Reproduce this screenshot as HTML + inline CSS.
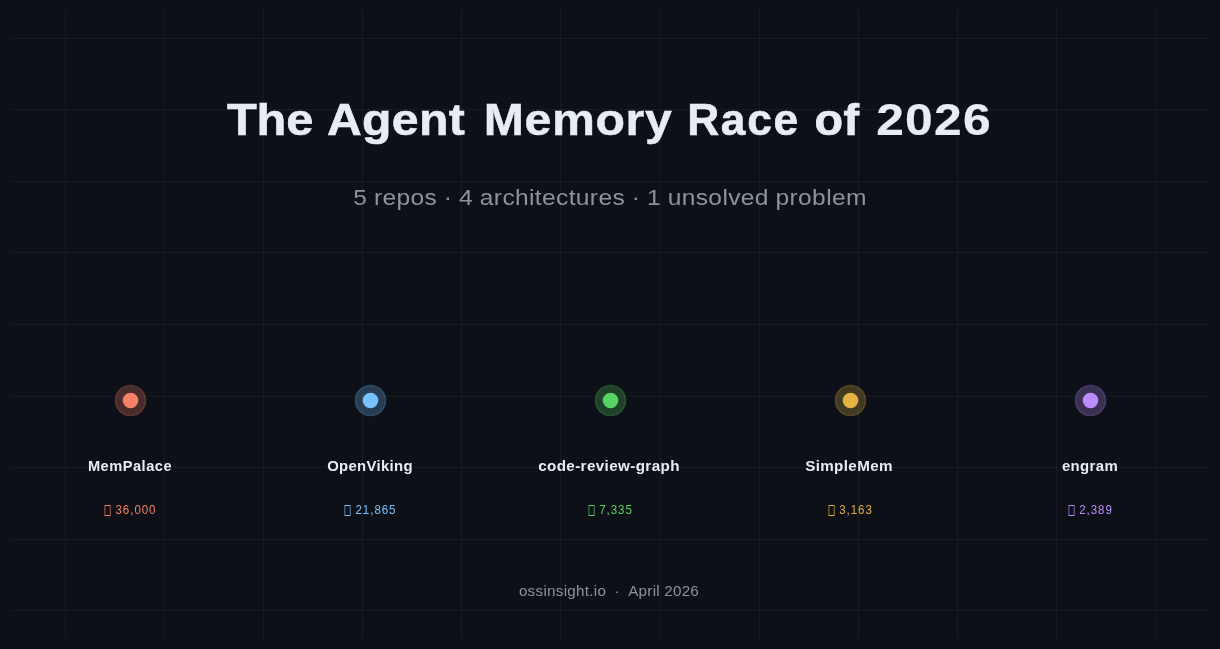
<!DOCTYPE html>
<html lang="en">
<head>
<meta charset="utf-8">
<title>The Agent Memory Race of 2026</title>
<style>
  html, body { margin: 0; padding: 0; background: #0d1117; }
  body {
    position: relative; width: 1220px; height: 649px; overflow: hidden;
    font-family: "Liberation Sans", sans-serif;
  }
  #gfx { position: absolute; left: 0; top: 0; }
  /* one composited layer for all text => greyscale (not LCD) antialiasing, like the original raster */
  main { position: absolute; left: 0; top: 0; width: 1220px; height: 649px; will-change: transform; }
  h1, h2, p { margin: 0; padding: 0; font-size: inherit; font-weight: inherit; }

  /* Every label is placed by its centre (--x) and top (--y); the original was drawn
     with a wider face, so glyphs are stretched (--sx) and tracked (--ls) to match. */
  .t {
    position: absolute; left: var(--x); top: var(--y);
    font-family: "Liberation Sans", sans-serif;
    font-size: var(--fs); line-height: var(--fs);
    letter-spacing: var(--ls, 0); word-spacing: var(--ws, 0);
    white-space: nowrap;
    -webkit-text-stroke-width: var(--st, 0px);   /* DejaVu Bold is heavier than Liberation Bold */
    transform-origin: 50% 50%;
    transform: translateX(-50%) scaleX(var(--sx, 1));
  }
  .title { font-weight: bold; color: #e6edf3; --y: 98px; --fs: 44.281px; }
  .sub   { color: #8b949e; }
  .name  { font-weight: bold; color: #e6edf3; --y: 459px; --fs: 14.232px; }
  .stars { --y: 504px; --fs: 12.263px; --sx: 0.9392; --ls: 1.027px; }
  .foot  { color: #8b949e; }
  .c0 { color: #f78166; fill: #f78166; stroke: #f78166; }
  .c1 { color: #79c0ff; fill: #79c0ff; stroke: #79c0ff; }
  .c2 { color: #56d364; fill: #56d364; stroke: #56d364; }
  .c3 { color: #e3b341; fill: #e3b341; stroke: #e3b341; }
  .c4 { color: #bc8cff; fill: #bc8cff; stroke: #bc8cff; }
</style>
</head>
<body>

<!-- background grid, scatter dots and the "missing glyph" boxes that precede each star count -->
<svg id="gfx" width="1220" height="649" viewBox="0 0 1220 649">
  <g fill="#2e3340" fill-opacity="0.3" stroke="none" shape-rendering="crispEdges">
    <rect x="65" y="9" width="1" height="630"/>
    <rect x="164" y="9" width="1" height="630"/>
    <rect x="263" y="9" width="1" height="630"/>
    <rect x="362" y="9" width="1" height="630"/>
    <rect x="461" y="9" width="1" height="630"/>
    <rect x="560" y="9" width="1" height="630"/>
    <rect x="660" y="9" width="1" height="630"/>
    <rect x="759" y="9" width="1" height="630"/>
    <rect x="858" y="9" width="1" height="630"/>
    <rect x="957" y="9" width="1" height="630"/>
    <rect x="1056" y="9" width="1" height="630"/>
    <rect x="1155" y="9" width="1" height="630"/>
    <rect x="10" y="38" width="1200" height="1"/>
    <rect x="10" y="109" width="1200" height="1"/>
    <rect x="10" y="181" width="1200" height="1"/>
    <rect x="10" y="252" width="1200" height="1"/>
    <rect x="10" y="324" width="1200" height="1"/>
    <rect x="10" y="396" width="1200" height="1"/>
    <rect x="10" y="467" width="1200" height="1"/>
    <rect x="10" y="539" width="1200" height="1"/>
    <rect x="10" y="610" width="1200" height="1"/>
  </g>
  <g class="c0">
    <circle cx="130.5" cy="400.5" r="15.1" fill-opacity="0.25" stroke-opacity="0.25" stroke-width="1.39"/>
    <circle cx="130.5" cy="400.5" r="7.8" stroke="none"/>
    <path stroke="none" fill-rule="evenodd" d="M104.59 505.12h5.91v10.76h-5.91z M105.25 505.88h4.6v9.24h-4.6z"/>
  </g>
  <g class="c1">
    <circle cx="370.5" cy="400.5" r="15.1" fill-opacity="0.25" stroke-opacity="0.25" stroke-width="1.39"/>
    <circle cx="370.5" cy="400.5" r="7.8" stroke="none"/>
    <path stroke="none" fill-rule="evenodd" d="M344.59 505.12h5.91v10.76h-5.91z M345.25 505.88h4.6v9.24h-4.6z"/>
  </g>
  <g class="c2">
    <circle cx="610.5" cy="400.5" r="15.1" fill-opacity="0.25" stroke-opacity="0.25" stroke-width="1.39"/>
    <circle cx="610.5" cy="400.5" r="7.8" stroke="none"/>
    <path stroke="none" fill-rule="evenodd" d="M588.59 505.12h5.91v10.76h-5.91z M589.25 505.88h4.6v9.24h-4.6z"/>
  </g>
  <g class="c3">
    <circle cx="850.5" cy="400.5" r="15.1" fill-opacity="0.25" stroke-opacity="0.25" stroke-width="1.39"/>
    <circle cx="850.5" cy="400.5" r="7.8" stroke="none"/>
    <path stroke="none" fill-rule="evenodd" d="M828.59 505.12h5.91v10.76h-5.91z M829.25 505.88h4.6v9.24h-4.6z"/>
  </g>
  <g class="c4">
    <circle cx="1090.5" cy="400.5" r="15.1" fill-opacity="0.25" stroke-opacity="0.25" stroke-width="1.39"/>
    <circle cx="1090.5" cy="400.5" r="7.8" stroke="none"/>
    <path stroke="none" fill-rule="evenodd" d="M1068.59 505.12h5.91v10.76h-5.91z M1069.25 505.88h4.6v9.24h-4.6z"/>
  </g>
</svg>

<main>
<h1 id="title">
  <span id="tw0" class="t title" style="--x:270px;--sx:1.1012;--ls:-0.151px;--st:0.575px">The</span>
  <span id="tw1" class="t title" style="--x:396px;--sx:1.0876;--ls:0.303px;--st:0.575px">Agent</span>
  <span id="tw2" class="t title" style="--x:578px;--sx:1.09;--ls:0.562px;--st:0.444px">Memory</span>
  <span id="tw3" class="t title" style="--x:743.5px;--sx:1;--ls:1.712px;--st:0.594px">Race</span>
  <span id="tw4" class="t title" style="--x:837px;--sx:1.0542;--ls:0.35px;--st:0.744px">of</span>
  <span id="tw5" class="t title" style="--x:934px;--sx:1.1244;--ls:1.086px;--st:0.2px">2026</span>
</h1>
<h2 id="sub" class="t sub" style="--x:610px;--y:187px;--fs:22.6px;--sx:1.087;--ls:0.325px;--ws:-0.425px">5 repos · 4 architectures · 1 unsolved problem</h2>

<div class="repo">
  <div id="n0" class="t name" style="--x:130px;--sx:1.0293;--ls:0.484px">MemPalace</div>
  <div id="s0" class="t stars c0" style="--x:136px">36,000</div>
</div>
<div class="repo">
  <div id="n1" class="t name" style="--x:370px;--sx:1.0468;--ls:0.309px">OpenViking</div>
  <div id="s1" class="t stars c1" style="--x:376px">21,865</div>
</div>
<div class="repo">
  <div id="n2" class="t name" style="--x:609px;--sx:1.0693;--ls:0.359px">code-review-graph</div>
  <div id="s2" class="t stars c2" style="--x:616px">7,335</div>
</div>
<div class="repo">
  <div id="n3" class="t name" style="--x:849px;--sx:1.0693;--ls:0.328px">SimpleMem</div>
  <div id="s3" class="t stars c3" style="--x:856px">3,163</div>
</div>
<div class="repo">
  <div id="n4" class="t name" style="--x:1090px;--sx:1.0508;--ls:0.34px">engram</div>
  <div id="s4" class="t stars c4" style="--x:1096px">2,389</div>
</div>

<p id="foot" class="t foot" style="--x:609px;--y:584px;--fs:14.641px;--sx:1.0394;--ls:0.267px;--ws:-0.312px">ossinsight.io&nbsp;&nbsp;·&nbsp;&nbsp;April 2026</p>
</main>

</body>
</html>
